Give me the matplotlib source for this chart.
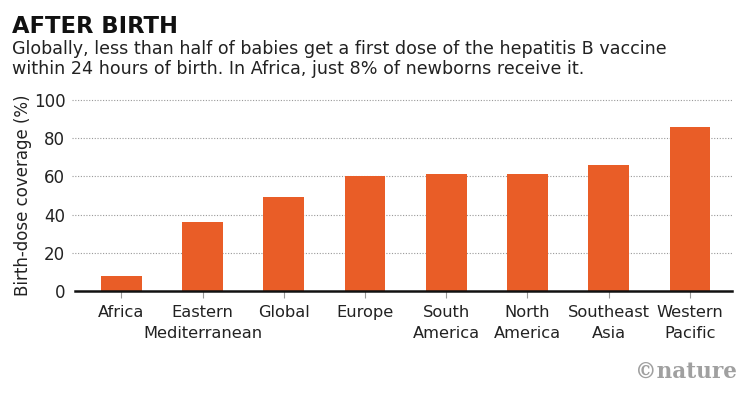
import matplotlib.pyplot as plt

regions = ["Africa", "Eastern\nMediterranean", "Global", "Europe",
           "South\nAmerica", "North\nAmerica", "Southeast\nAsia", "Western\nPacific"]
coverage = [8, 36, 49, 60, 61, 61, 66, 86]
yticks = [0, 20, 40, 60, 80, 100]

plt.rcParams['font.family'] = ['DejaVu Sans']

fig = plt.figure(figsize=(7.51, 3.99), dpi=100)
ax = fig.add_axes([0.0999, 0.2707, 0.875, 0.4787])

x = range(len(regions))
ax.bar(x, coverage, width=0.5, color='#e95d27', zorder=3)

ax.set_xlim(-0.57, 7.52)
ax.set_ylim(0, 100)
ax.set_yticks(yticks)
ax.set_xticks(list(x))
ax.set_xticklabels(regions, fontsize=11.7, color='#222222', linespacing=1.5)
ax.tick_params(axis='y', length=0, labelsize=12, pad=7, colors='#222222')
ax.tick_params(axis='x', length=5, color='#999999', width=0.8, pad=5)

for y in yticks[1:]:
    ax.axhline(y, xmin=-0.005, xmax=1, color='#999999', linestyle=(0, (1, 1.5)),
               linewidth=0.8, zorder=1, clip_on=False)

for s in ['top', 'right', 'left']:
    ax.spines[s].set_visible(False)
ax.spines['bottom'].set_linewidth(1.8)
ax.spines['bottom'].set_color('#111111')
ax.spines['bottom'].set_zorder(4)

ax.set_ylabel("Birth-dose coverage (%)", fontsize=12, color='#222222', labelpad=1)

fig.text(0.016, 0.917, "AFTER BIRTH", fontsize=16.3, fontweight='bold', color='#111111',
         va='baseline', ha='left')
fig.text(0.016, 0.8647, "Globally, less than half of babies get a first dose of the hepatitis B vaccine",
         fontsize=12.6, color='#222222', va='baseline', ha='left')
fig.text(0.016, 0.8145, "within 24 hours of birth. In Africa, just 8% of newborns receive it.",
         fontsize=12.6, color='#222222', va='baseline', ha='left')
fig.text(0.981, 0.0526, "\u00a9nature", fontsize=15.5, fontweight='bold', family='DejaVu Serif',
         color='#a0a0a0', ha='right', va='baseline')

fig.savefig("out.png", dpi=100)
